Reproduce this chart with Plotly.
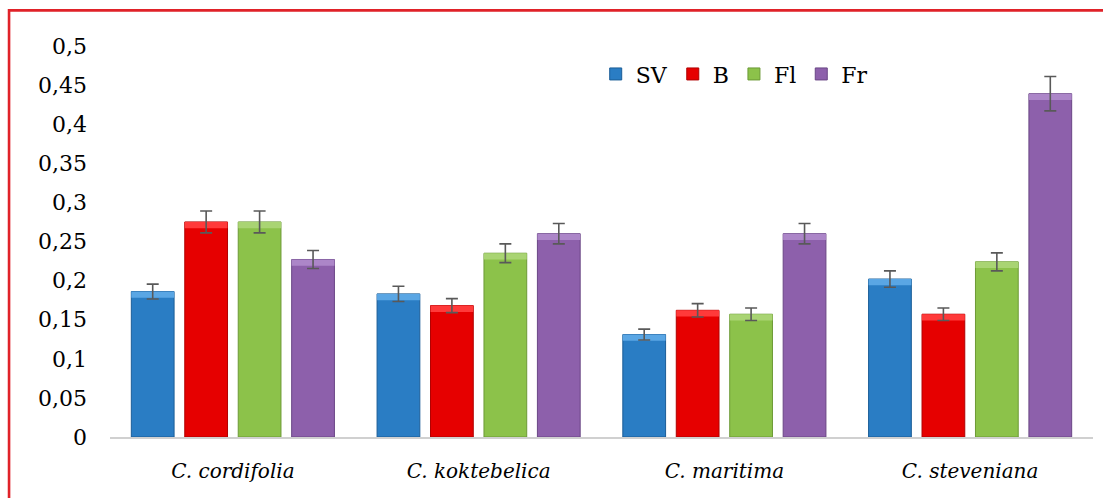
import plotly.graph_objects as go

categories = ["C. cordifolia", "C. koktebelica", "C. maritima", "C. steveniana"]
series_names = ["SV", "B", "Fl", "Fr"]

sv_values = [0.186, 0.183, 0.131, 0.202]
b_values = [0.275, 0.168, 0.162, 0.157]
fl_values = [0.275, 0.235, 0.157, 0.224]
fr_values = [0.227, 0.260, 0.260, 0.439]

sv_errors = [0.0095, 0.0098, 0.007, 0.0105]
b_errors = [0.014, 0.009, 0.0085, 0.008]
fl_errors = [0.014, 0.012, 0.008, 0.0115]
fr_errors = [0.0115, 0.013, 0.013, 0.022]

y_tick_values = [0, 0.05, 0.1, 0.15, 0.2, 0.25, 0.3, 0.35, 0.4, 0.45, 0.5]
y_tick_labels = ["0", "0,05", "0,1", "0,15", "0,2", "0,25", "0,3", "0,35", "0,4", "0,45", "0,5"]

colors = ["#2a7dc4", "#e60000", "#8cc24a", "#8d60ab"]
edge_colors = ["#1b5d97", "#b00000", "#6c9a36", "#6a4685"]
bevel_colors = ["#5aa6e4", "#ff3a3a", "#a9d473", "#ac86c8"]
BEVEL = 0.008

values = [sv_values, b_values, fl_values, fr_values]
errors = [sv_errors, b_errors, fl_errors, fr_errors]

FONT = "DejaVu Serif"

fig = go.Figure()
for name, vals, col, ecol in zip(series_names, values, colors, edge_colors):
    fig.add_trace(go.Bar(
        name=name, x=categories, y=vals, offsetgroup=name,
        marker=dict(color=col, line=dict(color=ecol, width=1)),
    ))
for name, vals, errs, bcol in zip(series_names, values, errors, bevel_colors):
    fig.add_trace(go.Bar(
        name=name, x=categories, y=[BEVEL] * len(vals),
        base=[v - BEVEL for v in vals], offsetgroup=name, showlegend=False,
        hoverinfo="skip",
        marker=dict(color=bcol, line=dict(width=0)),
        error_y=dict(type="data", array=errs, visible=True,
                     color="#595959", thickness=1.6, width=6),
    ))

fig.update_layout(
    width=1103, height=498,
    margin=dict(l=110, r=10, t=46, b=61),
    paper_bgcolor="white", plot_bgcolor="white",
    barmode="group", bargap=0.13, bargroupgap=0.2,
    font=dict(family=FONT, size=21, color="#000000"),
    showlegend=True,
    legend=dict(orientation="h", x=0.635, y=0.928, xanchor="center", yanchor="middle",
                font=dict(family=FONT, size=22), itemwidth=30,
                bgcolor="rgba(0,0,0,0)"),
    xaxis=dict(showline=True, linecolor="#d0d0d0", linewidth=2, ticks="",
               showgrid=False, zeroline=False,
               tickfont=dict(family=FONT, size=20, style="italic"),
               ticklabelstandoff=15),
    yaxis=dict(range=[0, 0.5], tickvals=y_tick_values, ticktext=y_tick_labels,
               showline=False, showgrid=False, zeroline=False, ticks="",
               tickfont=dict(family=FONT, size=22),
               ticklabelstandoff=22),
    shapes=[dict(type="rect", xref="paper", yref="paper",
                 x0=-0.1027, x1=1.05, y0=-0.3, y1=1.091,
                 line=dict(color="#e02229", width=2.6), fillcolor="rgba(0,0,0,0)",
                 layer="above")],
)

fig.write_html("out.html")
